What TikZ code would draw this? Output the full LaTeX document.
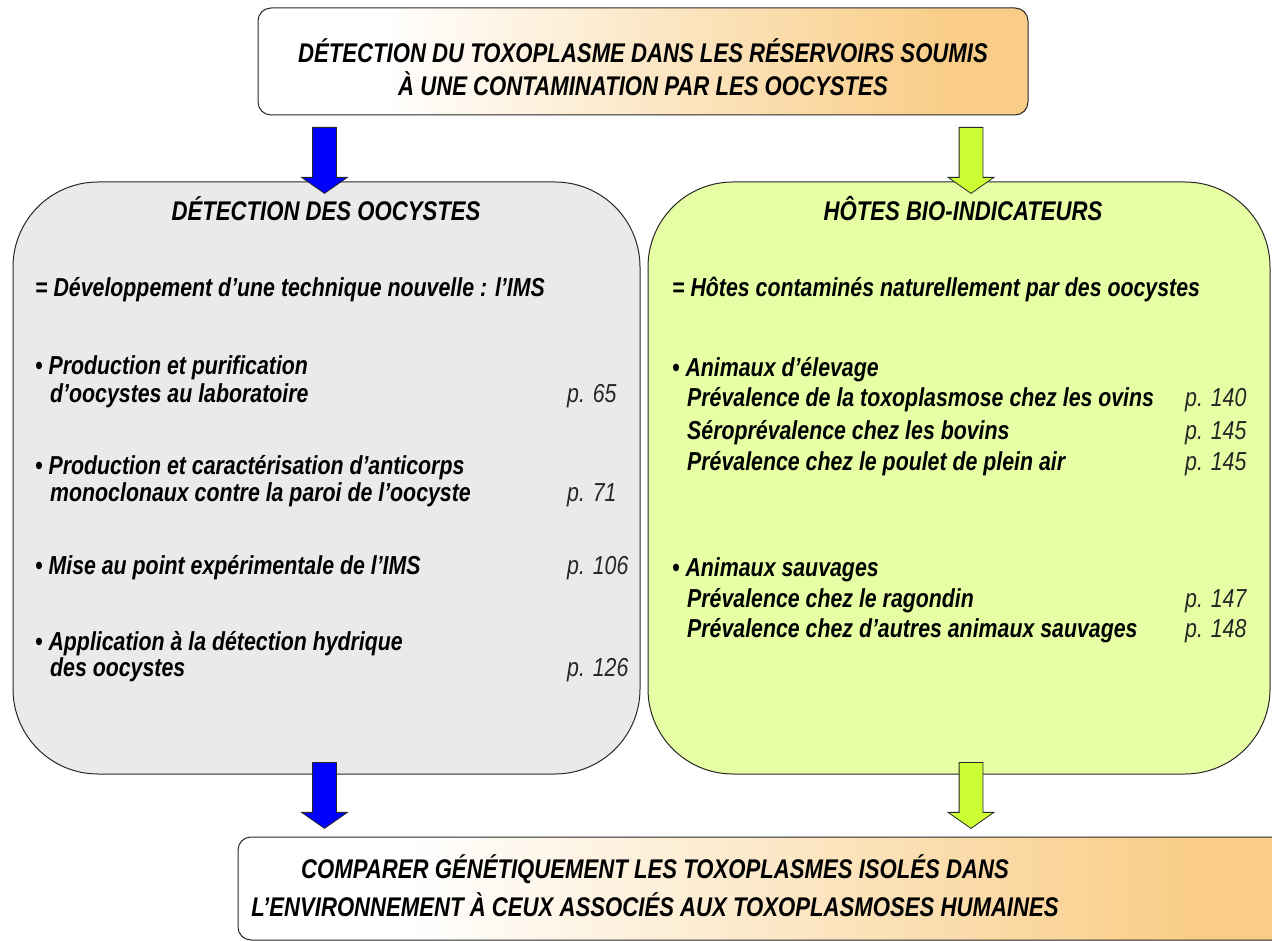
\documentclass[tikz,border=0pt]{standalone}
\usepackage{fontspec}
\setmainfont{Liberation Sans}[FakeStretch=0.82]
\usetikzlibrary{shapes.arrows}
\definecolor{tpeach}{RGB}{249,205,135}
\definecolor{tgray}{RGB}{234,234,234}
\definecolor{tlime}{RGB}{230,255,165}
\definecolor{tyellow}{RGB}{204,255,51}
\definecolor{tblue}{RGB}{0,0,255}
\definecolor{tedge}{RGB}{40,40,40}
\pgfdeclarehorizontalshading{peachfade}{100bp}{color(0bp)=(white); color(33bp)=(white); color(70bp)=(tpeach); color(100bp)=(tpeach)}
\tikzset{
  bigbox/.style={draw=tedge, line width=1pt, rounded corners=85pt},
  ttlbox/.style={draw=tedge, line width=1pt, rounded corners=13pt, shade, shading=peachfade},
  blockarr/.style={single arrow, draw=tedge, line width=0.8pt, rotate=-90, anchor=tail,
    minimum height=66pt, inner sep=0pt, inner ysep=11.5pt,
    single arrow head extend=11pt, single arrow tip angle=110},
  txt/.style={anchor=base west, inner sep=0pt, font=\fontsize{26}{30}\selectfont\bfseries\itshape},
  pg/.style={anchor=base west, inner sep=0pt, text=black!85, font=\fontsize{26}{30}\selectfont\itshape},
  hd/.style={anchor=base, inner sep=0pt, font=\fontsize{27}{31}\selectfont\bfseries\itshape}
}
\begin{document}
\begin{tikzpicture}[x=1pt, y=-1pt]
\useasboundingbox (0,0) rectangle (1272,941);
% top and bottom boxes
\draw[ttlbox] (258,8) rectangle (1028,115);
\draw[ttlbox] (238,837) rectangle (1300,940);
\node[hd] (t1) at (643,63) {DÉTECTION DU TOXOPLASME DANS LES RÉSERVOIRS SOUMIS};
\node[hd] (t2) at (643,96) {À UNE CONTAMINATION PAR LES OOCYSTES};
\node[hd] (b1) at (655,878) {COMPARER GÉNÉTIQUEMENT LES TOXOPLASMES ISOLÉS DANS};
\node[hd] (b2) at (655,916) {L’ENVIRONNEMENT À CEUX ASSOCIÉS AUX  TOXOPLASMOSES HUMAINES};
% the two columns
\draw[bigbox, fill=tgray] (13,182) rectangle (640,774);
\draw[bigbox, fill=tlime] (648,182) rectangle (1270,774);
% arrows
\node[blockarr, fill=tblue] (a1) at (324.5,127) {};
\node[blockarr, fill=tyellow] (a2) at (971,127) {};
\node[blockarr, fill=tblue] (a3) at (324.5,762) {};
\node[blockarr, fill=tyellow] (a4) at (971,762) {};
% left column
\node[hd] (lh) at (326,221) {DÉTECTION DES OOCYSTES};
\node[txt] (l0) at (35,297) {= Développement d’une technique nouvelle : l’IMS};
\node[txt] (l1) at (35,374) {• Production et purification};
\node[txt] (l1b) at (50,402) {d’oocystes au laboratoire};
\node[pg] (p1) at (567,402) {p. 65};
\node[txt] (l2) at (35,474) {• Production et caractérisation d’anticorps};
\node[txt] (l2b) at (50,501) {monoclonaux contre la paroi de l’oocyste};
\node[pg] (p2) at (567,501) {p. 71};
\node[txt] (l3) at (35,574) {• Mise au point expérimentale de l’IMS};
\node[pg] (p3) at (567,574) {p. 106};
\node[txt] (l4) at (35,650) {• Application à la détection hydrique};
\node[txt] (l4b) at (50,676) {des oocystes};
\node[pg] (p4) at (567,676) {p. 126};
% right column
\node[hd] (rh) at (963,221) {HÔTES BIO-INDICATEURS};
\node[txt] (r0) at (672,297) {= Hôtes contaminés naturellement par des oocystes};
\node[txt] (r1) at (672,376) {• Animaux d’élevage};
\foreach \n/\y/\txt/\p in {r1a/406/{Prévalence de la toxoplasmose chez les ovins}/140,
    r1b/439/{Séroprévalence chez les bovins}/145,
    r1c/470/{Prévalence chez le poulet de plein air}/145,
    r2a/607/{Prévalence chez le ragondin}/147,
    r2b/637/{Prévalence chez d’autres animaux sauvages}/148} {
  \node[txt] (\n) at (687,\y) {\txt};
  \node[pg] (\n p) at (1185,\y) {p. \p};
}
\node[txt] (r2) at (672,576) {• Animaux sauvages};
\end{tikzpicture}
\end{document}
